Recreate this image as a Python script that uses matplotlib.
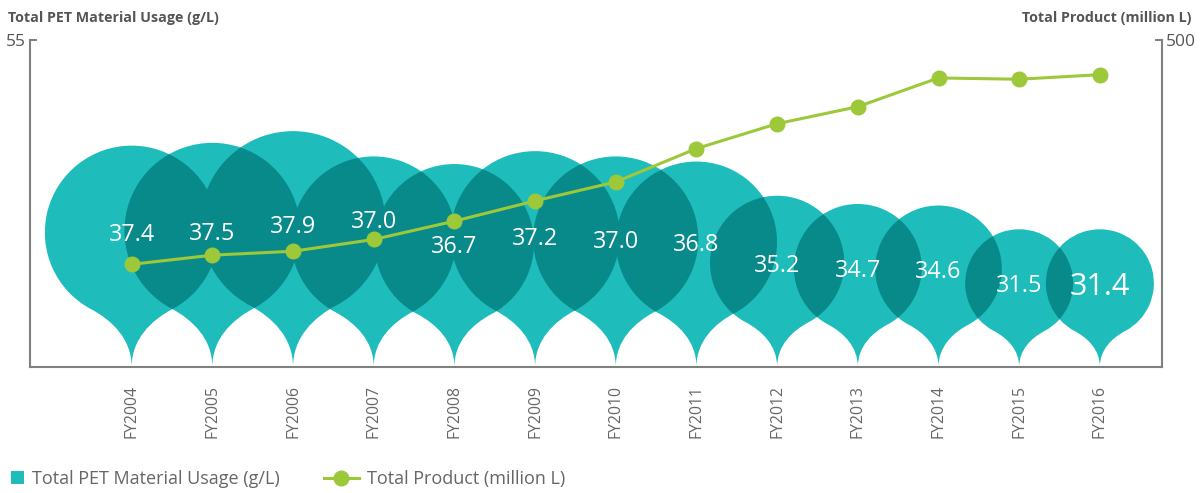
import numpy as np
import matplotlib
matplotlib.use("Agg")
import matplotlib.pyplot as plt
import matplotlib.transforms as mtransforms
from matplotlib.path import Path
from matplotlib.patches import PathPatch, Patch, Rectangle
from matplotlib.lines import Line2D
from matplotlib.legend_handler import HandlerPatch

# ---- data -------------------------------------------------------------
years = ["FY2004", "FY2005", "FY2006", "FY2007", "FY2008", "FY2009", "FY2010",
         "FY2011", "FY2012", "FY2013", "FY2014", "FY2015", "FY2016"]
pet_usage = [37.4, 37.5, 37.9, 37.0, 36.7, 37.2, 37.0, 36.8, 35.2, 34.7, 34.6, 31.5, 31.4]
total_product = [157, 171, 177, 195, 223, 254, 283, 334, 372, 398, 442, 440, 447]

usage_label = "Total PET Material Usage (g/L)"
product_label = "Total Product (million L)"

# ---- style ------------------------------------------------------------
plt.rcParams["font.family"] = ["Open Sans", "DejaVu Sans"]
TEAL = "#1fbcbc"
TEAL_DARK = "#088a8a"
GREEN = "#9cc83a"
AXIS_GREY = "#808080"
TITLE_GREY = "#555555"
TEXT_GREY = "#666666"

R_MIN, R_MAX = 54.0, 92.5      # bubble radius range in pixels
DEPTH = 1.55                   # circle centre height above the tip, in radii


def bubble_radius(v):
    lo, hi = min(pet_usage), max(pet_usage)
    t = (v - lo) / (hi - lo)
    return R_MIN + (R_MAX - R_MIN) * t ** 2


def pin_path(r, phi_deg=28.0, a=0.28, b=0.32):
    """Upside-down map pin: circle on top, cusp tip at the origin."""
    phi = np.radians(phi_deg)
    s, c = np.sin(phi), np.cos(phi)
    d = DEPTH * r
    pr = np.array([s * r, d - c * r])
    pl = np.array([-s * r, d - c * r])
    tr = np.array([c, s])
    tl = np.array([c, -s])
    arc = Path.arc(-90 + phi_deg, 270 - phi_deg)
    arc_v = arc.vertices * r + np.array([0, d])
    verts = [(0, 0), (0, b * r), tuple(pr - a * r * tr), tuple(pr)]
    codes = [Path.MOVETO, Path.CURVE4, Path.CURVE4, Path.CURVE4]
    verts += [tuple(v) for v in arc_v[1:]]
    codes += list(arc.codes[1:])
    verts += [tuple(pl + a * r * tl), (0, b * r), (0, 0), (0, 0)]
    codes += [Path.CURVE4, Path.CURVE4, Path.CURVE4, Path.CLOSEPOLY]
    return Path(verts, codes)


# ---- figure -----------------------------------------------------------
fig = plt.figure(figsize=(12, 4.93), dpi=100, facecolor="white")
ax = fig.add_axes([30 / 1200, 126 / 493, 1132 / 1200, 327 / 493])
ax2 = ax.twinx()

x = np.arange(len(years))
ax.set_xlim(-1.26, 12.77)
ax.set_ylim(0, 55)
ax2.set_ylim(0, 500)

# bubbles anchored at the baseline, sized in pixels
base_patches = []
paths = []
transforms = []
for xi, v in zip(x, pet_usage):
    r = bubble_radius(v)
    path = pin_path(r)
    tr = mtransforms.ScaledTranslation(xi, 0, ax.transData)
    p = PathPatch(path, transform=tr, facecolor=TEAL, edgecolor="none", zorder=1)
    ax.add_patch(p)
    base_patches.append(p)
    paths.append(path)
    transforms.append(tr)

# darker lens where two bubbles overlap
n = len(years)
for i in range(n):
    for j in range(i + 1, n):
        dp = PathPatch(paths[j], transform=transforms[j], facecolor=TEAL_DARK,
                       edgecolor="none", zorder=1.5)
        ax.add_patch(dp)
        dp.set_clip_path(base_patches[i])

# product line on the right axis
ax2.plot(x, total_product, color=GREEN, lw=2.2, marker="o", ms=10.5,
         markerfacecolor=GREEN, markeredgecolor=GREEN, zorder=4,
         solid_capstyle="round")

# value labels in the middle of each bubble, nudged clear of the line
for i, (xi, v, prod) in enumerate(zip(x, pet_usage, total_product)):
    r = bubble_radius(v)
    centre = DEPTH * r
    tip = ax.transData.transform((xi, 0))
    dot = ax2.transData.transform((xi, prod))
    dot_h = dot[1] - tip[1]
    ly = centre
    if abs(ly - dot_h) < 12:
        ly = dot_h + 20
    size = 22 if i == n - 1 else 16.8
    ax2.annotate(f"{v:.1f}", xy=(xi, 0), xycoords=ax.transData,
                 xytext=(0, ly), textcoords="offset pixels",
                 ha="center", va="center_baseline", color="white",
                 fontsize=size, zorder=5)

# ---- axes styling -----------------------------------------------------
for a in (ax, ax2):
    a.spines["top"].set_visible(False)
    for sp in a.spines.values():
        sp.set_color(AXIS_GREY)
        sp.set_linewidth(1.5)
ax.spines["right"].set_visible(False)
ax2.spines["left"].set_visible(False)
ax2.spines["bottom"].set_visible(False)

ax.set_xticks(x, years, rotation=90)
ax.tick_params(axis="x", length=0, pad=13, labelsize=11.3, labelcolor=TEXT_GREY)

ax.set_yticks([55], ["55"])
ax.tick_params(axis="y", direction="in", length=5, width=1.5, color=AXIS_GREY,
               labelsize=12.5, labelcolor=TITLE_GREY, pad=3)
ax2.set_yticks([500], ["500"])
ax2.tick_params(axis="y", direction="in", length=5, width=1.5, color=AXIS_GREY,
                labelsize=12.5, labelcolor=TITLE_GREY, pad=3)

# axis titles
fig.text(8 / 1200, 1 - 18 / 493, usage_label, fontsize=10.3, fontweight="bold",
         color=TITLE_GREY, ha="left", va="center")
fig.text(1192 / 1200, 1 - 18 / 493, product_label, fontsize=10.3, fontweight="bold",
         color=TITLE_GREY, ha="right", va="center")


# ---- legend -----------------------------------------------------------
def square_patch(legend, orig_handle, xdescent, ydescent, width, height, fontsize):
    side = 0.7 * fontsize
    return Rectangle((width - xdescent - side, -ydescent + (height - side) / 2),
                     side, side)


handles = [Patch(facecolor=TEAL, edgecolor="none"),
           Line2D([], [], color=GREEN, lw=2.2, marker="o", ms=10.5)]
fig.legend(handles, [usage_label, product_label],
           handler_map={Patch: HandlerPatch(patch_func=square_patch)},
           loc="center left", bbox_to_anchor=(-11 / 1200, 1 - 479 / 493),
           ncol=2, frameon=False, fontsize=13, labelcolor=TEXT_GREY,
           handlelength=1.94, handletextpad=0.44, columnspacing=2.44,
           borderpad=0, borderaxespad=0)

fig.savefig("out.png", dpi=100, facecolor="white")
